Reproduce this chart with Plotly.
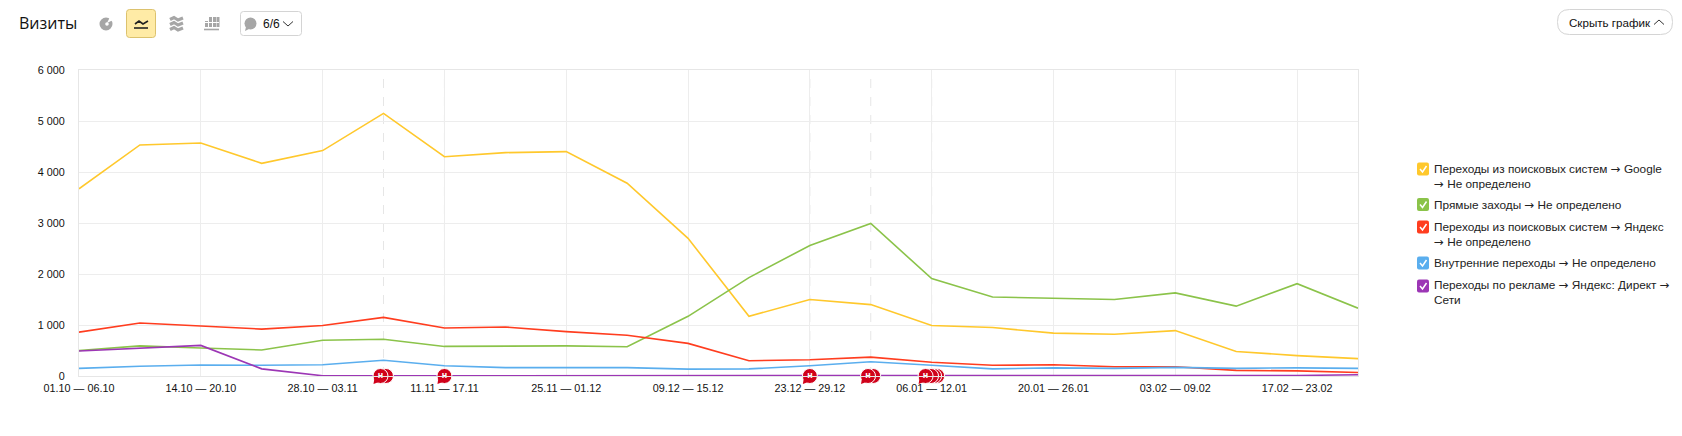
import plotly.graph_objects as go

W, H = 1682, 436
ML, MR, MT, MB = 79, 324, 70, 60
PW, PH = W - ML - MR, H - MT - MB

weeks = ["01.10 — 06.10", "07.10 — 13.10", "14.10 — 20.10", "21.10 — 27.10", "28.10 — 03.11",
         "04.11 — 10.11", "11.11 — 17.11", "18.11 — 24.11", "25.11 — 01.12", "02.12 — 08.12",
         "09.12 — 15.12", "16.12 — 22.12", "23.12 — 29.12", "30.12 — 05.01", "06.01 — 12.01",
         "13.01 — 19.01", "20.01 — 26.01", "27.01 — 02.02", "03.02 — 09.02", "10.02 — 16.02",
         "17.02 — 23.02", "24.02 — 28.02"]
google = [3670, 4530, 4570, 4170, 4420, 5150, 4300, 4380, 4400, 3780, 2700, 1170, 1500, 1400, 990, 950, 840, 820, 890, 480, 400, 340]
direct_in = [500, 590, 550, 510, 700, 720, 580, 580, 590, 575, 1170, 1930, 2560, 2990, 1910, 1550, 1530, 1500, 1630, 1370, 1810, 1330]
yandex = [860, 1040, 980, 920, 990, 1150, 940, 960, 870, 800, 640, 300, 320, 370, 270, 210, 220, 180, 180, 110, 100, 70]
internal = [150, 190, 215, 210, 220, 310, 200, 165, 165, 165, 135, 140, 200, 280, 210, 140, 160, 150, 170, 150, 160, 150]
ads = [490, 540, 600, 140, 5, 5, 5, 5, 5, 5, 5, 5, 5, 5, 5, 5, 5, 5, 5, 5, 10, 25]

ARROW = '<span style="font-family:DejaVu Sans">→</span>'
names = [f"Переходы из поисковых систем {ARROW} Google<br>{ARROW} Не определено",
         f"Прямые заходы {ARROW} Не определено",
         f"Переходы из поисковых систем {ARROW} Яндекс<br>{ARROW} Не определено",
         f"Внутренние переходы {ARROW} Не определено",
         f"Переходы по рекламе {ARROW} Яндекс: Директ {ARROW}<br>Сети"]
series_names = ["Переходы из поисковых систем → Google → Не определено",
                "Прямые заходы → Не определено",
                "Переходы из поисковых систем → Яндекс → Не определено",
                "Внутренние переходы → Не определено",
                "Переходы по рекламе → Яндекс: Директ → Сети"]
colors = ["#ffc82c", "#8bc34a", "#ff3d1f", "#5aaeee", "#9c36b5"]
series = [google, direct_in, yandex, internal, ads]

y_ticks = [0, 1000, 2000, 3000, 4000, 5000, 6000]
y_labels = ["0", "1 000", "2 000", "3 000", "4 000", "5 000", "6 000"]
event_weeks = [5, 6, 12, 13, 14]
note_back_x = [5.04, 13.04, 14.09, 14.04, 13.99]
note_front_x = [4.95, 6.0, 12.0, 12.955, 13.9]
note_y = [0, 0, 0, 0, 0]


def X(p):
    return (p - ML) / PW


def Y(p):
    return 1 - (p - MT) / PH


def rrect(x0, y0, x1, y1, r):
    return (f"M{X(x0 + r)},{Y(y0)} L{X(x1 - r)},{Y(y0)} Q{X(x1)},{Y(y0)} {X(x1)},{Y(y0 + r)} "
            f"L{X(x1)},{Y(y1 - r)} Q{X(x1)},{Y(y1)} {X(x1 - r)},{Y(y1)} "
            f"L{X(x0 + r)},{Y(y1)} Q{X(x0)},{Y(y1)} {X(x0)},{Y(y1 - r)} "
            f"L{X(x0)},{Y(y0 + r)} Q{X(x0)},{Y(y0)} {X(x0 + r)},{Y(y0)} Z")


def poly(pts):
    return "M" + " L".join(f"{X(a)},{Y(b)}" for a, b in pts)


shapes, annotations = [], []


def add_path(path, fill=None, line=None, lw=1):
    shapes.append(dict(type="path", xref="paper", yref="paper", path=path,
                       fillcolor=fill or "rgba(0,0,0,0)",
                       line=dict(color=line or "rgba(0,0,0,0)", width=lw if line else 0)))


def add_circle(cx, cy, r, fill):
    shapes.append(dict(type="circle", xref="paper", yref="paper", x0=X(cx - r), x1=X(cx + r),
                       y0=Y(cy + r), y1=Y(cy - r), fillcolor=fill, line=dict(width=0)))


def add_text(px, py, text, size=12, color="#000", xanchor="left", family="Liberation Sans", align="left"):
    annotations.append(dict(xref="paper", yref="paper", x=X(px), y=Y(py), text=text, showarrow=False,
                            xanchor=xanchor, yanchor="middle", align=align,
                            font=dict(size=size, color=color, family=family), borderpad=0, borderwidth=0))


# event dashed lines
for w in event_weeks:
    shapes.append(dict(type="line", xref="x", yref="paper", x0=w, x1=w, y0=0, y1=1, layer="below",
                       line=dict(color="#e6e6e6", width=1, dash="dash")))

# speech-bubble tails of the notes
for v in note_front_x:
    shapes.append(dict(type="path", xref="x", yref="paper", xsizemode="pixel", ysizemode="pixel",
                       xanchor=v, yanchor=0, path="M-6,-2 L-7,-8 L1,-5 Z",
                       fillcolor="#d0021b", line=dict(width=0), layer="above"))

# header
add_text(19, 23, "Визиты", size=16, color="#111", family="Open Sans")
G = "#a6a6a6"
add_circle(106, 24, 6.5, G)
add_path(poly([(107, 23), (113, 20), (110, 17)]) + " Z", fill="#fff")
add_circle(107, 24, 1.8, "#fff")
add_path(rrect(126.5, 9.5, 155.5, 37.5, 3), fill="#ffeba6", line="#dcc26e", lw=1)
add_path(poly([(135, 24), (139, 21), (143, 24), (148, 21)]), line="#222", lw=1.6)
add_path(poly([(134, 28), (148, 28)]), line="#222", lw=1.6)
for dy in (0, 5, 10):
    add_path(poly([(170, 19.5 + dy), (174, 17.5 + dy), (178, 20 + dy), (183, 18 + dy)]), line=G, lw=3.2)
for a, t in ((205, 21), (209, 17), (213, 17), (216.5, 17)):
    shapes.append(dict(type="rect", xref="paper", yref="paper", x0=X(a), x1=X(a + 3), y0=Y(27), y1=Y(t),
                       fillcolor=G, line=dict(width=0)))
add_path(poly([(204, 22.5), (219, 22.5)]), line="#fff", lw=1)
add_path(poly([(204, 29.5), (219, 29.5)]), line=G, lw=1.6)
add_path(rrect(240.5, 11.5, 301.5, 35.5, 3), fill="#fff", line="#d4d4d4", lw=1)
add_circle(250.5, 23.5, 6, G)
add_path(poly([(246, 27), (245, 31), (250, 28.5)]) + " Z", fill=G)
add_text(263, 24, "6/6", size=12, color="#111")
add_path(poly([(283, 21.5), (288, 26), (293, 21.5)]), line="#333", lw=1)
add_path(rrect(1557.5, 9.5, 1672.5, 34.5, 12), fill="#fff", line="#d4d4d4", lw=1)
add_text(1569, 22, "Скрыть график", size=11.6, color="#111")
add_path(poly([(1654, 24.5), (1659, 20), (1664, 24.5)]), line="#333", lw=1)

# legend
legend_mid = [176.5, 204.5, 234, 263, 292.5]
legend_box = [169, 204.5, 227, 263, 286]
for nm, col, m, b in zip(names, colors, legend_mid, legend_box):
    add_path(rrect(1417, b - 6.5, 1429, b + 6.5, 2), fill=col)
    add_path(poly([(1420, b), (1422.5, b + 3), (1426.5, b - 3)]), line="#fff", lw=1.5)
    add_text(1433.5, m, nm, size=11.8, color="#222")

fig = go.Figure()
xs = list(range(len(weeks)))
for s, nm, col in zip(series, series_names, colors):
    fig.add_trace(go.Scatter(x=xs, y=s, mode="lines", name=nm,
                             line=dict(color=col, width=1.6), cliponaxis=True))

fig.add_trace(go.Scatter(x=note_back_x, y=[0] * len(note_back_x), mode="markers", cliponaxis=False,
                         marker=dict(size=15, color="#d0021b", line=dict(color="#fff", width=1)), hoverinfo="skip"))
fig.add_trace(go.Scatter(x=note_front_x, y=note_y, mode="markers+text", cliponaxis=False, text=["<b>н</b>"] * 5,
                         textposition="middle center",
                         textfont=dict(size=9, color="#fff", family="Liberation Sans"),
                         marker=dict(size=15, color="#d0021b", line=dict(color="#fff", width=1)), hoverinfo="skip"))

fig.update_layout(
    width=W, height=H, margin=dict(l=ML, r=MR, t=MT, b=MB, autoexpand=False),
    paper_bgcolor="#fff", plot_bgcolor="#fff", showlegend=False,
    shapes=shapes, annotations=annotations,
    font=dict(family="Liberation Sans", size=11, color="#111"),
    xaxis=dict(range=[0, len(weeks) - 1], tickvals=xs[::2], ticktext=weeks[::2], showgrid=True,
               gridcolor="#ededed", gridwidth=1, showline=True, mirror=True, linecolor="#e6e6e6",
               ticks="", zeroline=False, tickfont=dict(size=10.8), ticklabelstandoff=2),
    yaxis=dict(range=[0, 6000], tickvals=y_ticks, ticktext=y_labels, showgrid=True,
               gridcolor="#ededed", gridwidth=1, showline=True, mirror=True, linecolor="#e6e6e6",
               ticks="", zeroline=False, tickfont=dict(size=10.8), ticklabelstandoff=11),
)

fig.write_html("out.html", config=dict(displayModeBar=False),
               post_script="document.body.style.margin='0';document.body.style.overflow='hidden';")
